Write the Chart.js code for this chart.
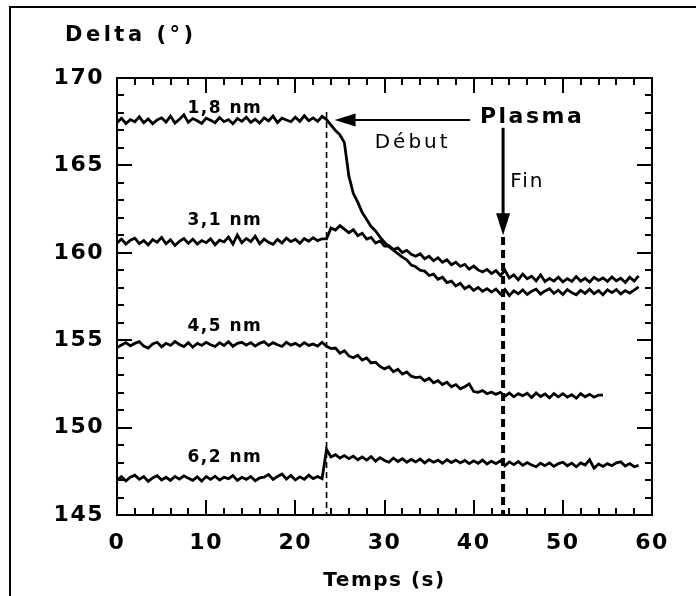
<!DOCTYPE html>
<html>
<head>
<meta charset="utf-8">
<script src="https://cdn.jsdelivr.net/npm/chart.js@4.4.1/dist/chart.umd.min.js"></script>
<style>
    body { margin: 0; background: #fff; }
    #wrap { position: relative; width: 696px; height: 596px; overflow: hidden; }
    #frame { position: absolute; left: 9px; top: 6px; width: 700px; height: 600px;
             border-left: 2px solid #000; border-top: 2px solid #000; pointer-events: none; }
</style>
</head>
<body>
<div id="wrap">
    <canvas id="deltaChart" width="696" height="596"></canvas>
    <div id="frame"></div>
</div>
<script>
// Data

const time = [
    0, 0.5, 1, 1.5, 2, 2.5, 3, 3.5, 4, 4.5, 5, 5.5, 6, 6.5, 7, 7.5, 8, 8.5, 9, 9.5,
    10, 10.5, 11, 11.5, 12, 12.5, 13, 13.5, 14, 14.5, 15, 15.5, 16, 16.5, 17, 17.5, 18, 18.5, 19, 19.5,
    20, 20.5, 21, 21.5, 22, 22.5, 23, 23.5, 24, 24.5, 25, 25.5, 26, 26.5, 27, 27.5, 28, 28.5, 29, 29.5,
    30, 30.5, 31, 31.5, 32, 32.5, 33, 33.5, 34, 34.5, 35, 35.5, 36, 36.5, 37, 37.5, 38, 38.5, 39, 39.5,
    40, 40.5, 41, 41.5, 42, 42.5, 43, 43.5, 44, 44.5, 45, 45.5, 46, 46.5, 47, 47.5, 48, 48.5, 49, 49.5,
    50, 50.5, 51, 51.5, 52, 52.5, 53, 53.5, 54, 54.5, 55, 55.5, 56, 56.5, 57, 57.5, 58, 58.5
];

const delta18 = [
    167.45, 167.70, 167.40, 167.62, 167.50, 167.78, 167.44, 167.66, 167.38, 167.60,
    167.72, 167.48, 167.82, 167.42, 167.64, 167.90, 167.46, 167.68, 167.55, 167.40,
    167.70, 167.58, 167.44, 167.74, 167.50, 167.62, 167.38, 167.68, 167.52, 167.76,
    167.46, 167.64, 167.42, 167.72, 167.54, 167.82, 167.45, 167.70, 167.60, 167.50,
    167.76, 167.52, 167.84, 167.56, 167.72, 167.52, 167.80,
    167.62, 167.30, 167.00, 166.75, 166.30, 164.40, 163.40, 162.90, 162.30, 161.90,
    161.50, 161.25, 160.90, 160.60, 160.35, 160.15, 159.95, 159.75, 159.60, 159.30,
    159.20, 159.00, 158.95, 158.70, 158.78, 158.48, 158.60, 158.30, 158.38, 158.10,
    158.25, 157.95, 158.10, 157.85, 158.02, 157.80, 157.95, 157.75, 157.92, 157.65,
    157.90, 157.55, 157.82, 157.66, 157.88, 157.62, 157.80, 157.92, 157.64, 157.82,
    157.95, 157.68, 157.86, 157.62, 157.90, 157.72, 157.60, 157.85, 157.68, 157.92,
    157.66, 157.84, 157.60, 157.88, 157.72, 157.90, 157.65, 157.84, 157.70, 157.86,
    158.05
];

const delta31 = [
    160.55, 160.78, 160.50, 160.72, 160.84, 160.52, 160.70, 160.45, 160.76, 160.60,
    160.88, 160.52, 160.74, 160.42, 160.66, 160.82, 160.54, 160.78, 160.50, 160.70,
    160.58, 160.80, 160.46, 160.72, 160.62, 160.90, 160.50, 161.02, 160.58, 160.82,
    160.64, 160.95, 160.52, 160.78, 160.60, 160.48, 160.76, 160.56, 160.84, 160.64,
    160.78, 160.54, 160.82, 160.66, 160.86, 160.70, 160.80,
    160.80, 161.42, 161.30, 161.55, 161.35, 161.15, 161.32, 160.98, 161.12, 160.78,
    160.88, 160.56, 160.68, 160.38, 160.40, 160.18, 160.28, 160.02, 160.14, 159.92,
    159.80, 159.94, 159.66, 159.80, 159.55, 159.72, 159.46, 159.60, 159.32, 159.46,
    159.22, 159.34, 159.06, 159.24, 159.02, 158.90, 159.05, 158.82, 158.98, 158.70,
    159.00, 158.56, 158.74, 158.46, 158.78, 158.52, 158.66, 158.40, 158.74, 158.36,
    158.54, 158.38, 158.60, 158.34, 158.52, 158.36, 158.64, 158.38, 158.54, 158.32,
    158.60, 158.42, 158.56, 158.36, 158.62, 158.40, 158.54, 158.30, 158.60, 158.38,
    158.68
];

const delta45 = [
    154.58, 154.72, 154.86, 154.68, 154.82, 154.92, 154.66, 154.55, 154.78, 154.88,
    154.62, 154.82, 154.70, 154.92, 154.76, 154.64, 154.86, 154.60, 154.82, 154.70,
    154.88, 154.74, 154.64, 154.86, 154.70, 154.92, 154.65, 154.82, 154.88, 154.72,
    154.86, 154.66, 154.82, 154.92, 154.70, 154.86, 154.74, 154.64, 154.88, 154.72,
    154.82, 154.66, 154.86, 154.70, 154.78, 154.66, 154.88,
    154.65, 154.52, 154.55, 154.26, 154.40, 154.10, 154.00, 154.14, 153.86, 153.98,
    153.70, 153.74, 153.50, 153.36, 153.48, 153.20, 153.34, 153.06, 153.18, 152.94,
    152.86, 152.90, 152.68, 152.82, 152.56, 152.68, 152.46, 152.60, 152.34, 152.46,
    152.22, 152.34, 152.50, 152.06, 152.02, 152.12, 151.94, 152.04, 151.90, 152.02,
    151.80, 151.98, 151.76, 151.94, 151.82, 151.96, 151.72, 151.98, 151.78, 151.92,
    151.70, 151.95, 151.76, 151.94, 151.74, 151.88, 151.68, 151.94, 151.76, 151.90,
    151.74, 151.86, 151.86, null, null, null, null, null, null, null,
    null
];

const delta62 = [
    146.98, 147.20, 146.95, 147.16, 147.28, 147.04, 147.20, 146.92, 147.12, 147.25,
    147.00, 147.16, 146.98, 147.20, 147.05, 147.24, 147.10, 146.98, 147.18, 146.94,
    147.20, 147.04, 147.22, 147.00, 147.16, 147.08, 147.26, 146.98, 147.16, 147.04,
    147.20, 146.96, 147.12, 147.16, 147.32, 147.04, 147.20, 147.35, 147.06, 147.26,
    147.00, 147.18, 147.04, 147.28, 147.08, 147.20, 147.08,
    148.75, 148.32, 148.45, 148.26, 148.40, 148.22, 148.36, 148.16, 148.32, 148.14,
    148.34, 148.08, 148.28, 148.12, 148.02, 148.26, 148.06, 148.22, 148.02, 148.18,
    148.04, 148.20, 147.98, 148.16, 148.02, 148.14, 147.96, 148.16, 148.00, 148.14,
    147.98, 148.12, 147.94, 148.10, 147.96, 148.14, 147.92, 148.08, 147.94, 148.10,
    147.82, 148.04, 147.88, 148.06, 147.84, 148.00, 147.86, 147.76, 147.96, 147.82,
    147.98, 147.78, 147.94, 148.02, 147.82, 147.96, 147.76, 147.98, 147.86, 148.16,
    147.68, 147.92, 147.78, 147.94, 147.82, 147.98, 148.04, 147.80, 147.94, 147.76,
    147.84
];

const seriesNames = ['1,8 nm', '3,1 nm', '4,5 nm', '6,2 nm'];
const seriesValues = [delta18, delta31, delta45, delta62];
const nameX = [7.9, 7.9, 7.9, 7.9];
const nameY = [168.0, 161.6, 155.5, 148.05];

const plasmaStart = 23.5;   // Début
const plasmaEnd = 43.3;     // Fin

// Canvas

const FONT = 'DejaVu Sans';

function toPoints(values) {
    return values.map((v, i) => ({ x: time[i], y: v }));
}

const annotations = {
    id: 'annotations',
    beforeDraw(chart) {
        chart.ctx.letterSpacing = '1.5px';   // tick labels
    },
    afterDraw(chart) {
        const { ctx, chartArea: a } = chart;
        const xs = chart.scales.x;
        const ys = chart.scales.y;
        const px = v => xs.getPixelForValue(v);
        const py = v => ys.getPixelForValue(v);

        ctx.save();
        ctx.strokeStyle = '#000';
        ctx.fillStyle = '#000';

        // frame + ticks pointing inward on all four sides
        ctx.lineWidth = 2;
        ctx.strokeRect(a.left, a.top, a.right - a.left, a.bottom - a.top);
        ctx.beginPath();
        for (let v = xs.min; v <= xs.max; v += 2) {
            const len = v % 10 === 0 ? 15 : 7;
            const p = Math.round(px(v));
            ctx.moveTo(p, a.bottom); ctx.lineTo(p, a.bottom - len);
            ctx.moveTo(p, a.top); ctx.lineTo(p, a.top + len);
        }
        for (let v = ys.min; v <= ys.max; v += 1) {
            const len = v % 5 === 0 ? 15 : 7;
            const p = Math.round(py(v));
            ctx.moveTo(a.left, p); ctx.lineTo(a.left + len, p);
            ctx.moveTo(a.right, p); ctx.lineTo(a.right - len, p);
        }
        ctx.stroke();

        // dashed markers
        ctx.lineWidth = 1.6;
        ctx.setLineDash([6, 4]);
        ctx.beginPath();
        ctx.moveTo(px(plasmaStart), py(168.05));
        ctx.lineTo(px(plasmaStart), a.bottom);
        ctx.stroke();
        ctx.lineWidth = 4;
        ctx.setLineDash([8, 5]);
        ctx.beginPath();
        ctx.moveTo(px(plasmaEnd), py(160.9));
        ctx.lineTo(px(plasmaEnd), a.bottom);
        ctx.stroke();
        ctx.setLineDash([]);

        // arrow to Début
        const ay = py(167.6);
        const tipX = px(24.4);
        ctx.lineWidth = 2;
        ctx.beginPath();
        ctx.moveTo(tipX + 20, ay);
        ctx.lineTo(px(39.6), ay);
        ctx.stroke();
        ctx.beginPath();
        ctx.moveTo(tipX, ay);
        ctx.lineTo(tipX + 21, ay - 6.5);
        ctx.lineTo(tipX + 21, ay + 6.5);
        ctx.closePath();
        ctx.fill();

        // arrow to Fin
        const ax = px(plasmaEnd);
        const tipY = py(161.0);
        ctx.lineWidth = 3;
        ctx.beginPath();
        ctx.moveTo(ax, py(167.15));
        ctx.lineTo(ax, tipY - 20);
        ctx.stroke();
        ctx.beginPath();
        ctx.moveTo(ax, tipY);
        ctx.lineTo(ax - 7, tipY - 22);
        ctx.lineTo(ax + 7, tipY - 22);
        ctx.closePath();
        ctx.fill();

        // texts
        ctx.textBaseline = 'alphabetic';
        ctx.textAlign = 'left';

        ctx.font = 'bold 22px ' + FONT;
        ctx.letterSpacing = '2.5px';
        ctx.fillText('Plasma', px(40.7), py(167.43));

        ctx.font = '20px ' + FONT;
        ctx.letterSpacing = '3px';
        ctx.fillText('Début', px(28.9), py(166.0));
        ctx.letterSpacing = '2px';
        ctx.fillText('Fin', px(44.1), py(163.76));

        ctx.font = 'bold 17px ' + FONT;
        ctx.letterSpacing = '1.5px';
        seriesNames.forEach((name, i) => {
            ctx.fillText(name, px(nameX[i]), py(nameY[i]));
        });

        ctx.font = 'bold 21px ' + FONT;
        ctx.letterSpacing = '3.5px';
        ctx.fillText('Delta (°)', 65, 41);

        ctx.font = 'bold 20px ' + FONT;
        ctx.letterSpacing = '1.5px';
        ctx.textAlign = 'center';
        ctx.fillText('Temps (s)', (a.left + a.right) / 2, 586);

        ctx.restore();
        ctx.letterSpacing = '0px';
    }
};

const ctx = document.getElementById('deltaChart').getContext('2d');
const deltaChart = new Chart(ctx, {
    type: 'line',
    data: {
        datasets: seriesValues.map((vals, i) => ({
            label: seriesNames[i],
            data: toPoints(vals),
            borderColor: '#000',
            borderWidth: 2.8,
            pointRadius: 0,
            tension: 0,
            spanGaps: false
        }))
    },
    options: {
        responsive: false,
        animation: false,
        events: [],
        layout: {
            padding: { top: 78, right: 44, left: 0, bottom: 0 }
        },
        plugins: {
            legend: { display: false },
            tooltip: { enabled: false }
        },
        scales: {
            x: {
                type: 'linear',
                min: 0,
                max: 60,
                afterFit: s => { s.height = 81; },
                grid: { display: false, drawTicks: false },
                border: { display: false },
                ticks: {
                    stepSize: 10,
                    padding: 15,
                    color: '#000',
                    font: { family: FONT, size: 22, weight: 'bold' }
                }
            },
            y: {
                min: 145,
                max: 170,
                afterFit: s => { s.width = 117; },
                grid: { display: false, drawTicks: false },
                border: { display: false },
                ticks: {
                    stepSize: 5,
                    padding: 13,
                    color: '#000',
                    font: { family: FONT, size: 22, weight: 'bold' }
                }
            }
        }
    },
    plugins: [annotations]
});
</script>
</body>
</html>
